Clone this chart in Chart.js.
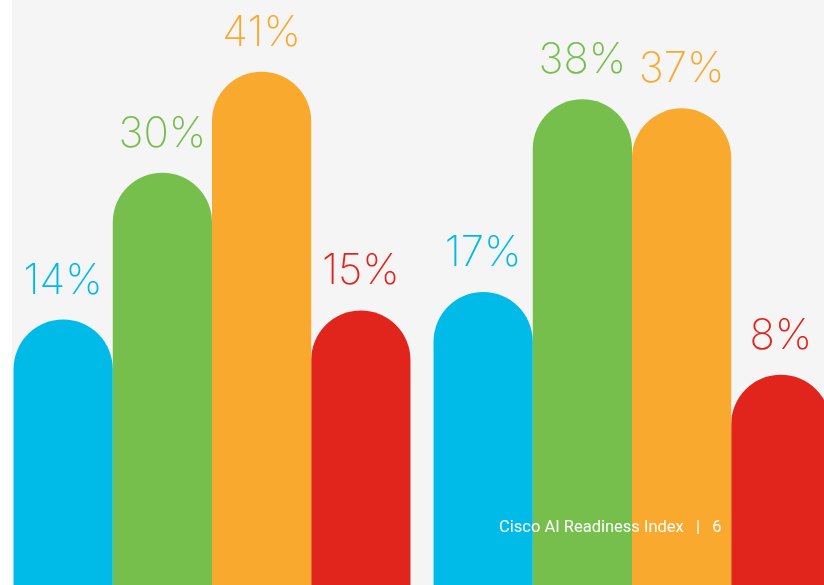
<!DOCTYPE html>
<html>
<head>
<meta charset="utf-8">
<script src="https://cdn.jsdelivr.net/npm/chart.js@4/dist/chart.umd.min.js"></script>
<style>
  html, body { margin: 0; padding: 0; background: #ffffff; overflow: hidden; }
  #wrap { position: relative; width: 824px; height: 585px; overflow: hidden; }
  canvas { position: absolute; left: 0; top: 0; }
</style>
</head>
<body>
<div id="wrap"><canvas id="chart" width="844" height="585" style="width:844px;height:585px"></canvas></div>
<script>
// two groups of four bars
const groups = ["Group A", "Group B"];
const seriesNames = ["Blue", "Green", "Orange", "Red"];
const blueValues = [14, 17];
const greenValues = [30, 38];
const orangeValues = [41, 37];
const redValues = [15, 8];
const colors = ["#00bbe8", "#76bf4c", "#f9a92d", "#e2251c"];

// value axis runs below zero so the bars start off the bottom edge
const yMin = -14.9;
const yMax = 48.8;

const footerText = "Cisco AI Readiness Index   |   6";

const allValues = [blueValues, greenValues, orangeValues, redValues];

const backgroundPlugin = {
  id: "background",
  beforeDraw(chart) {
    const ctx = chart.ctx;
    ctx.save();
    ctx.fillStyle = "#ffffff";
    ctx.fillRect(0, 0, chart.width, chart.height);
    ctx.fillStyle = "#f5f5f5";
    ctx.fillRect(12, 0, chart.width - 12, chart.height);
    ctx.restore();
  },
};

const labelPlugin = {
  id: "valueLabels",
  afterDatasetsDraw(chart) {
    const ctx = chart.ctx;
    ctx.save();
    ctx.font = "200 42px Inter, Roboto, sans-serif";
    ctx.textAlign = "center";
    ctx.textBaseline = "alphabetic";
    chart.data.datasets.forEach((ds, i) => {
      const meta = chart.getDatasetMeta(i);
      meta.data.forEach((bar, j) => {
        ctx.fillStyle = ds.backgroundColor;
        ctx.fillText(ds.data[j] + "%", bar.x, bar.y - 26);
      });
    });
    // page footer
    ctx.font = "400 16.5px Roboto, sans-serif";
    ctx.fillStyle = "#ffffff";
    ctx.textAlign = "left";
    ctx.textBaseline = "middle";
    ctx.fillText(footerText, 499, 528);
    ctx.restore();
  },
};

new Chart(document.getElementById("chart").getContext("2d"), {
  type: "bar",
  data: {
    labels: groups,
    datasets: allValues.map((vals, i) => ({
      label: seriesNames[i],
      data: vals,
      base: yMin,
      backgroundColor: colors[i],
      borderWidth: 0,
      borderSkipped: false,
      borderRadius: { topLeft: 60, topRight: 60, bottomLeft: 0, bottomRight: 0 },
      categoryPercentage: 0.945,
      barPercentage: 1.0,
    })),
  },
  options: {
    responsive: false,
    animation: false,
    layout: { padding: { left: 2, right: 2, top: 0, bottom: 0 } },
    scales: {
      x: { display: false },
      y: { display: false, min: yMin, max: yMax },
    },
    plugins: {
      legend: { display: false },
      tooltip: { enabled: false },
    },
  },
  plugins: [backgroundPlugin, labelPlugin],
});
</script>
</body>
</html>
